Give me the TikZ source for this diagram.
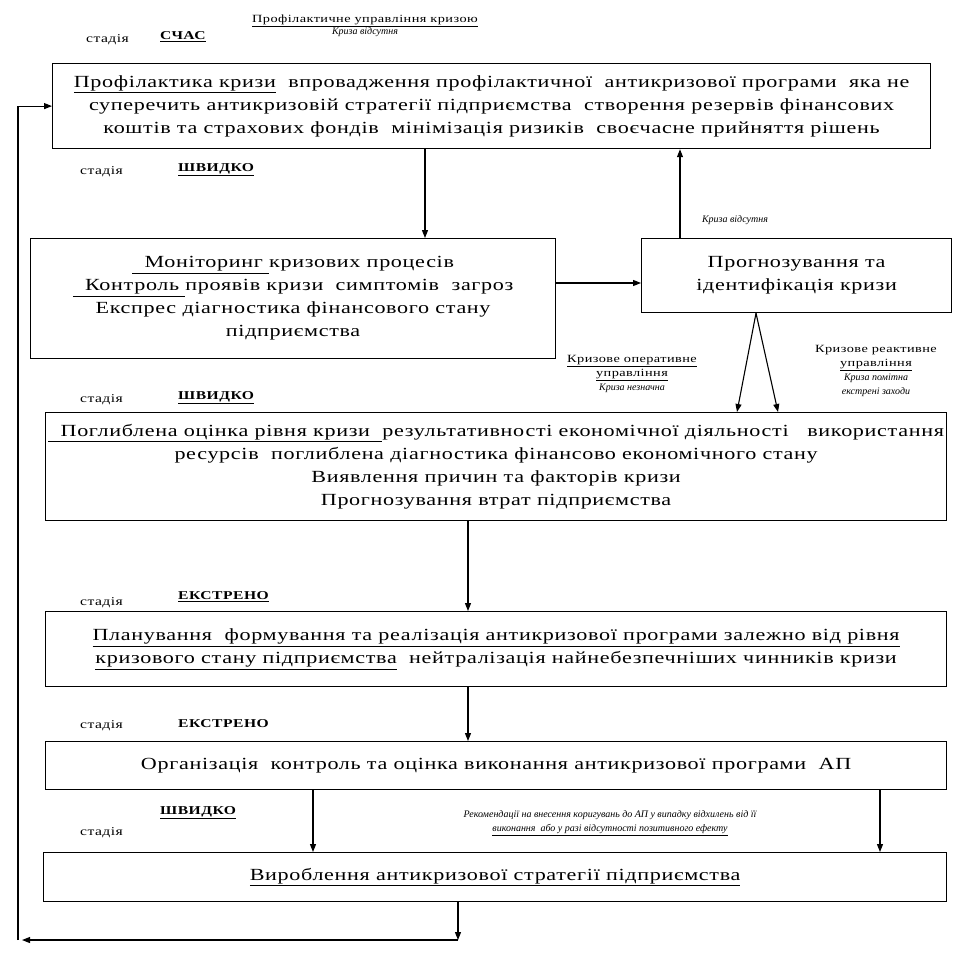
\documentclass[tikz,border=0pt]{standalone}
\usepackage{fontspec}
\setmainfont{Liberation Serif}
\newfontfamily\boxfamily[FakeStretch=1.3,LetterSpace=4]{Liberation Serif}
\newcommand{\boxfont}{\boxfamily\fontsize{17}{23}\selectfont}
\newcommand{\smallfont}{\boxfamily\fontsize{12}{14}\selectfont}
\newcommand{\notefont}{\boxfamily\fontsize{11}{17}\selectfont}
\newcommand{\noteit}[1]{{\normalfont\fontsize{10}{17}\selectfont\itshape #1}}
\usetikzlibrary{arrows.meta}
\begin{document}
\begin{tikzpicture}[x=1pt,y=-1pt,
    block/.style={rectangle, draw=black, line width=1.2pt, inner sep=0pt,
      anchor=north west, align=center, font=\boxfont},
    arrow/.style={-{Triangle[length=8pt,width=6pt]}, line width=1.1pt},
    stage/.style={font=\smallfont, anchor=west, inner sep=0pt},
    pace/.style={font=\smallfont\bfseries, anchor=west, inner sep=0pt},
    note/.style={font=\notefont, align=center, inner sep=0pt}
  ]
  \useasboundingbox (0,0) rectangle (957,956);
  % columns of the connectors
  \coordinate (xa) at (425,0);
  \coordinate (xb) at (680,0);
  \coordinate (xc) at (468,0);
  \coordinate (xd) at (313,0);
  \coordinate (xe) at (880,0);
  \coordinate (xf) at (458,0);
  \coordinate (fk) at (756,0);
  \coordinate (fl) at (737,0);
  \coordinate (fr) at (778,0);
  \coordinate (ya) at (0,283);

  \node[stage] (st0) at (86,40) {стадія};
  \node[pace] (pc0) at (160,37) {\underline{СЧАС}};
  \node[note] (hd0) at (365,26) {\underline{Профілактичне управління кризою}\\[-5pt]\noteit{Криза відсутня}};

  \node[block, minimum width=878, minimum height=85] (prof) at (52,63)
  {\underline{Профілактика кризи}\ \ впровадження профілактичної\ \ антикризової програми\ \ яка не\\
   суперечить антикризовій стратегії підприємства\ \ створення резервів фінансових\\
   коштів та страхових фондів\ \ мінімізація ризиків\ \ своєчасне прийняття рішень};

  \node[stage] (st1) at (80,172) {стадія};
  \node[pace] (pc1) at (178,170) {\underline{ШВИДКО}};

  \node[block, minimum width=525, minimum height=120] (mon) at (30,238)
  {\underline{\ \ Моніторинг }кризових процесів\\
   \underline{\ \ Контроль }проявів кризи\ \ симптомів\ \ загроз\\
   Експрес діагностика фінансового стану\\
   підприємства};

  \node[block, minimum width=310, minimum height=74] (prog) at (641,238)
  {Прогнозування та\\ідентифікація кризи};
  \node[note] (abs) at (735,220) {\noteit{Криза відсутня}};

  \node[note] (opr) at (632,374) {\underline{Кризове оперативне}\\[-3pt]\underline{управління}\\[-3pt]\noteit{Криза незначна}};
  \node[note] (rea) at (876,371) {Кризове реактивне\\[-3pt]\underline{управління}\\[-3pt]\noteit{Криза помітна}\\[-3pt]\noteit{екстрені заходи}};

  \node[stage] (st2) at (80,400) {стадія};
  \node[pace] (pc2) at (178,398) {\underline{ШВИДКО}};

  \node[block, minimum width=901, minimum height=108] (deep) at (45,412)
  {\underline{\ \ Поглиблена оцінка рівня кризи\ \ }результативності економічної діяльності\ \ \ використання\\
   ресурсів\ \ поглиблена діагностика фінансово економічного стану\\
   Виявлення причин та факторів кризи\\
   Прогнозування втрат підприємства};

  \node[stage] (st3) at (80,603) {стадія};
  \node[pace] (pc3) at (178,597) {\underline{ЕКСТРЕНО}};

  \node[block, minimum width=901, minimum height=75] (plan) at (45,611)
  {\underline{Планування\ \ формування та реалізація антикризової програми залежно від рівня}\\
   \underline{кризового стану підприємства}\ \ нейтралізація найнебезпечніших чинників кризи};

  \node[stage] (st4) at (80,726) {стадія};
  \node[pace] (pc4) at (178,724) {ЕКСТРЕНО};

  \node[block, minimum width=901, minimum height=48] (org) at (45,741)
  {Організація\ \ контроль та оцінка виконання антикризової програми\ \ АП};

  \node[pace] (pc5) at (160,813) {\underline{ШВИДКО}};
  \node[stage] (st5) at (80,833) {стадія};
  \node[note] (rec) at (610,823)
  {\noteit{Рекомендації на внесення коригувань до АП у випадку відхилень від її}\\[-3pt]
   \noteit{\underline{виконання\ \ або у разі відсутності позитивного ефекту}}};

  \node[block, minimum width=903, minimum height=49] (strat) at (43,852)
  {\underline{Вироблення антикризової стратегії підприємства}};

  \coordinate (ret) at (458,940);
  \coordinate (lft) at (22,940);
  \coordinate (up) at (18,940);

  \draw[arrow] (prof.south -| xa) -- (mon.north -| xa);
  \draw[arrow] (mon.east |- ya) -- (prog.west |- ya);
  \draw[arrow] (prog.north -| xb) -- (prof.south -| xb);
  \draw[arrow] (prog.south -| fk) -- (deep.north -| fl);
  \draw[arrow] (prog.south -| fk) -- (deep.north -| fr);
  \draw[arrow] (deep.south -| xc) -- (plan.north -| xc);
  \draw[arrow] (plan.south -| xc) -- (org.north -| xc);
  \draw[arrow] (org.south -| xd) -- (strat.north -| xd);
  \draw[arrow] (org.south -| xe) -- (strat.north -| xe);
  \draw[arrow] (strat.south -| xf) -- (ret);
  \draw[arrow] (ret) -- (lft);
  \draw[arrow] (up) |- (prof.west);
\end{tikzpicture}
\end{document}
